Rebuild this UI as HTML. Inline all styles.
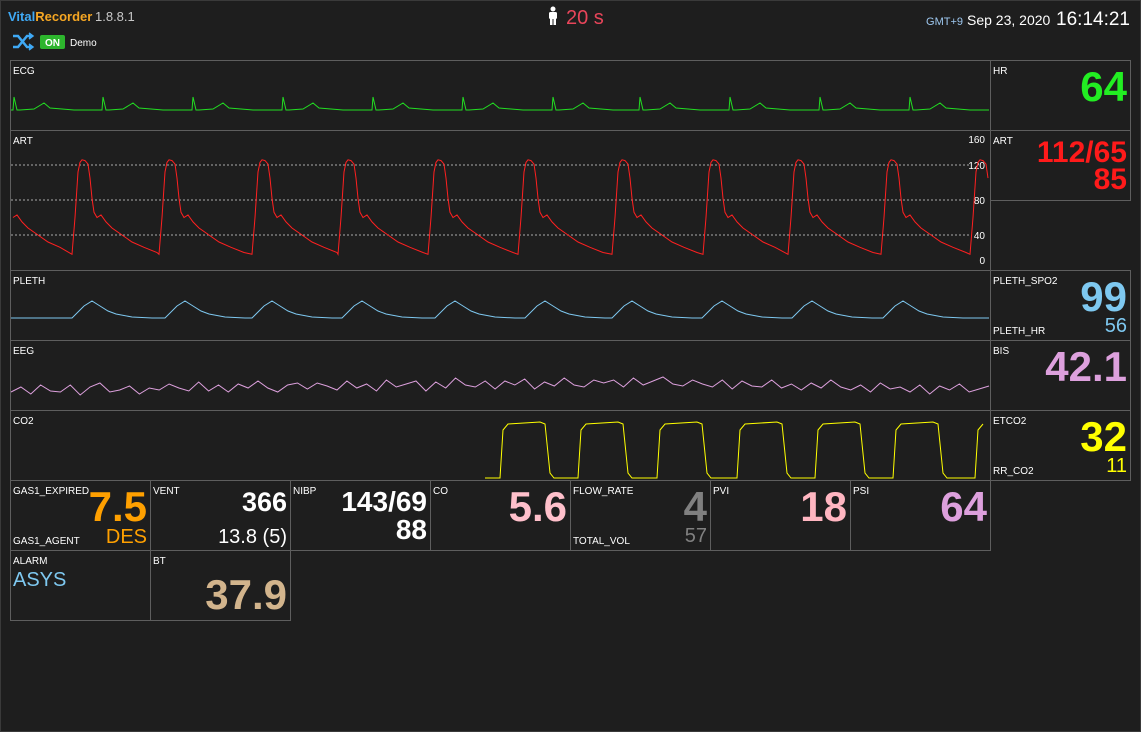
<!DOCTYPE html>
<html><head><meta charset="utf-8"><style>
html,body{margin:0;padding:0;background:#1e1e1e;}
svg{display:block;font-family:"Liberation Sans",sans-serif;}
</style></head><body>
<svg id="s" width="1141" height="732" viewBox="0 0 1141 732">
<rect x="0.5" y="0.5" width="1140" height="731" fill="#1e1e1e" stroke="#3a3a3a"/>
<g>
<text x="8" y="21" font-size="13" font-weight="bold"><tspan fill="#3fa9f5">Vital</tspan><tspan fill="#f5a623">Recorder</tspan></text>
<text x="95" y="21" font-size="13" fill="#c8c8c8">1.8.8.1</text>
<g stroke="#3fa9f5" stroke-width="2.5" fill="none"><path d="M13 36 L18 36 L27 47 L31 47 M13 47 L18 47 L27 36 L31 36"/><path d="M29 33 L33 36 L29 39 M29 44 L33 47 L29 50" fill="#3fa9f5" stroke-width="1.5"/></g>
<rect x="40" y="35" width="25" height="14" rx="2" fill="#2db52d"/>
<text x="52.5" y="46" font-size="10" font-weight="bold" fill="#fff" text-anchor="middle">ON</text>
<text x="70" y="46" font-size="10" fill="#fff">Demo</text>
<g fill="#fff"><circle cx="553" cy="9" r="2.5"/><rect x="549" y="12" width="8" height="7" rx="1.5"/><rect x="550" y="18" width="2.5" height="7"/><rect x="553.5" y="18" width="2.5" height="7"/></g>
<text x="566" y="24" font-size="20" fill="#e8455a">20 s</text>
<text x="963" y="25" font-size="11" fill="#9ec8f0" text-anchor="end">GMT+9</text>
<text x="967" y="25" font-size="14" fill="#fff">Sep 23, 2020</text>
<text x="1130" y="25" font-size="19" fill="#fff" text-anchor="end">16:14:21</text>
</g>
<g id="panels"></g>
<g id="waves"></g>
</svg>
<script>
const ecgBeats=[14,103,193,283,373,463,553,640,730,820,910];
const ecgShape=[[-4,0],[-1,0],[0,-13],[3,0],[6,0],[20,-1],[30,-7],[36,-2],[60,0],[80,0]];
const artBeats=[-12,72,159,252,338,428,518,612,703,788,881,970];
const artShape=[[0,18],[3,60],[6,112],[8,123],[10,126],[13,125],[16,121],[18,105],[20,82],[22,66],[25,60],[29,63],[34,55],[40,48],[50,40],[60,32],[72,26],[85,20]];
const plethPeaks=[92,185,272,362,455,545,632,722,812,903];
const plethShape=[[-20,0],[-8,-12],[0,-17],[8,-12],[16,-7],[24,-4],[40,-1],[60,0]];
const eegVals=[2,-3,4,-5,1,3,-4,6,-2,-6,3,1,-3,5,-1,2,-4,0,3,-6,4,-2,5,-3,1,-5,2,6,-1,-3,4,-2,1,5,-4,3,-1,6,-5,2,0,-3,7,-2,4,-6,1,3,-3,5,-2,2,-4,6,-1,3,-5,2,4,-3,1,-2,5,-4,3,-1,-5,2,4,-2,0,3,-4,5,-3,1,2,-5,3,-1,4,-3,2,-6,1,3,-2,5,-4,2,-1,4,-3,6,-2,1,-5,3,0,-3];
const eegTrend=[0,1,1,2,3,4,5,5,6,6,7,7,8,8,6,5,4,3,2,1];
const co2Rises=[500,578,657,737,815,893,975];
const co2Shape=[[-14,0],[0,0],[3,48],[8,54],[40,56],[45,54],[50,5],[54,0]];
const artTicks=[0,40,80,120,160];
const wavePanels=[["ECG",60,130],["ART",130,270],["PLETH",270,340],["EEG",340,410],["CO2",410,480]];
const NS="http://www.w3.org/2000/svg";
const P=document.getElementById('panels'),W=document.getElementById('waves');
function mk(tag,attrs,parent,txt){const e=document.createElementNS(NS,tag);for(const k in attrs)e.setAttribute(k,attrs[k]);if(txt!==undefined)e.textContent=txt;parent.appendChild(e);return e;}
function box(x,y,w,h,name){const r=mk('rect',{x:x+.5,y:y+.5,width:w,height:h,fill:'none',stroke:'#5e5e5e'},P);}
function txt(x,y,s,size,fill,anchor,bold,name){const t=mk('text',{x:x,y:y,'font-size':size,fill:fill,'text-anchor':anchor||'start','font-weight':bold?'bold':'normal'},P,s);}
wavePanels.forEach(p=>{box(10,p[1],980,p[2]-p[1],p[0].toLowerCase()+'-wave-panel');txt(13,p[1]+14,p[0],10,'#fff','start',false,p[0].toLowerCase()+'-label');});
const artY=v=>270-v*0.875;
artTicks.forEach(v=>{let y=artY(v);if(v>0&&v<160){const l=mk('line',{x1:11,x2:970,y1:y,y2:y,stroke:'#aaa','stroke-dasharray':'2,2','stroke-width':1},P);}
 txt(985,v==0?264:v==160?143:y+4,String(v),10,'#fff','end',false,'art-tick-'+v);});
function line(pts,color,name){const d='M'+pts.map(p=>p[0].toFixed(1)+' '+p[1].toFixed(1)).join(' L');const e=mk('path',{d:d,fill:'none',stroke:color,'stroke-width':1},W);}
function clip(pts,x0,x1){return pts.filter(p=>p[0]>=x0&&p[0]<=x1);}
let pts=[[11,110]];ecgBeats.forEach(b=>ecgShape.forEach(s=>pts.push([b+s[0],110+s[1]])));pts.push([989,110]);
pts.sort((a,b)=>a[0]-b[0]);line(clip(pts,11,989),'#22dd22','ecg-wave');
pts=[];artBeats.forEach((b,i)=>artShape.forEach(s=>{let x=b+s[0];if(i<artBeats.length-1&&x>=artBeats[i+1])return;pts.push([x,artY(s[1])]);}));
line(clip(pts,11,989),'#ff2020','art-wave');
pts=[[11,318]];plethPeaks.forEach(b=>plethShape.forEach(s=>pts.push([b+s[0],318+s[1]])));pts.push([989,318]);
pts.sort((a,b)=>a[0]-b[0]);line(clip(pts,11,989),'#7ec8f0','pleth-wave');
pts=[];const step=978/(eegVals.length-1);eegVals.forEach((v,i)=>{const t=eegTrend[Math.min(eegTrend.length-1,Math.floor(i/eegVals.length*eegTrend.length))];pts.push([11+i*step,390+v-t]);});
line(pts,'#dda0dd','eeg-wave');
const co2Y=v=>478-v;pts=[[485,co2Y(0)]];co2Rises.forEach(b=>co2Shape.forEach(s=>pts.push([b+s[0],co2Y(s[1])])));
line(clip(pts,485,989),'#ffff00','co2-wave');
box(990,60,140,70,'hr-panel');txt(993,74,'HR',10,'#fff','start',false,'hr-label');txt(1127,101,'64',42,'#22ee22','end',true,'hr-value');
box(990,130,140,70,'art-numeric-panel');txt(993,144,'ART',10,'#fff','start',false,'art-num-label');txt(1127,162,'112/65',30,'#ff1a1a','end',true,'art-sys-dia');txt(1127,189,'85',30,'#ff1a1a','end',true,'art-mean');
box(990,270,140,70,'spo2-panel');txt(993,284,'PLETH_SPO2',10,'#fff','start',false,'spo2-label');txt(993,334,'PLETH_HR',10,'#fff','start',false,'pleth-hr-label');txt(1127,311,'99',42,'#7ec8f0','end',true,'spo2-value');txt(1127,332,'56',20,'#7ec8f0','end',false,'pleth-hr-value');
box(990,340,140,70,'bis-panel');txt(993,354,'BIS',10,'#fff','start',false,'bis-label');txt(1127,381,'42.1',42,'#dda0dd','end',true,'bis-value');
box(990,410,140,70,'etco2-panel');txt(993,424,'ETCO2',10,'#fff','start',false,'etco2-label');txt(993,474,'RR_CO2',10,'#fff','start',false,'rr-co2-label');txt(1127,451,'32',42,'#ffff00','end',true,'etco2-value');txt(1127,472,'11',20,'#ffff00','end',false,'rr-co2-value');
const bx=[10,150,290,430,570,710,850];
bx.forEach((x,i)=>box(x,480,140,70,'bottom-panel-'+i));
box(10,550,140,70,'alarm-panel');box(150,550,140,70,'bt-panel');
txt(13,494,'GAS1_EXPIRED',10,'#fff','start',false,'gas1-expired-label');txt(13,544,'GAS1_AGENT',10,'#fff','start',false,'gas1-agent-label');
txt(147,521,'7.5',42,'#ffa000','end',true,'gas1-expired-value');txt(147,543,'DES',20,'#ffa000','end',false,'gas1-agent-value');
txt(153,494,'VENT',10,'#fff','start',false,'vent-label');txt(287,511,'366',27,'#fff','end',true,'vent-value');txt(287,543,'13.8 (5)',20,'#fff','end',false,'vent-sub-value');
txt(293,494,'NIBP',10,'#fff','start',false,'nibp-label');txt(427,511,'143/69',28,'#fff','end',true,'nibp-sys-dia');txt(427,539,'88',28,'#fff','end',true,'nibp-mean');
txt(433,494,'CO',10,'#fff','start',false,'co-label');txt(567,521,'5.6',42,'#ffc0cb','end',true,'co-value');
txt(573,494,'FLOW_RATE',10,'#fff','start',false,'flow-rate-label');txt(573,544,'TOTAL_VOL',10,'#fff','start',false,'total-vol-label');txt(707,521,'4',42,'#808080','end',true,'flow-rate-value');txt(707,542,'57',20,'#808080','end',false,'total-vol-value');
txt(713,494,'PVI',10,'#fff','start',false,'pvi-label');txt(847,521,'18',42,'#ffb6c1','end',true,'pvi-value');
txt(853,494,'PSI',10,'#fff','start',false,'psi-label');txt(987,521,'64',42,'#dda0dd','end',true,'psi-value');
txt(13,564,'ALARM',10,'#fff','start',false,'alarm-label');txt(13,586,'ASYS',20,'#7ec8f0','start',false,'alarm-value');
txt(153,564,'BT',10,'#fff','start',false,'bt-label');txt(287,609,'37.9',42,'#d2b48c','end',true,'bt-value');
</script>
</body></html>
